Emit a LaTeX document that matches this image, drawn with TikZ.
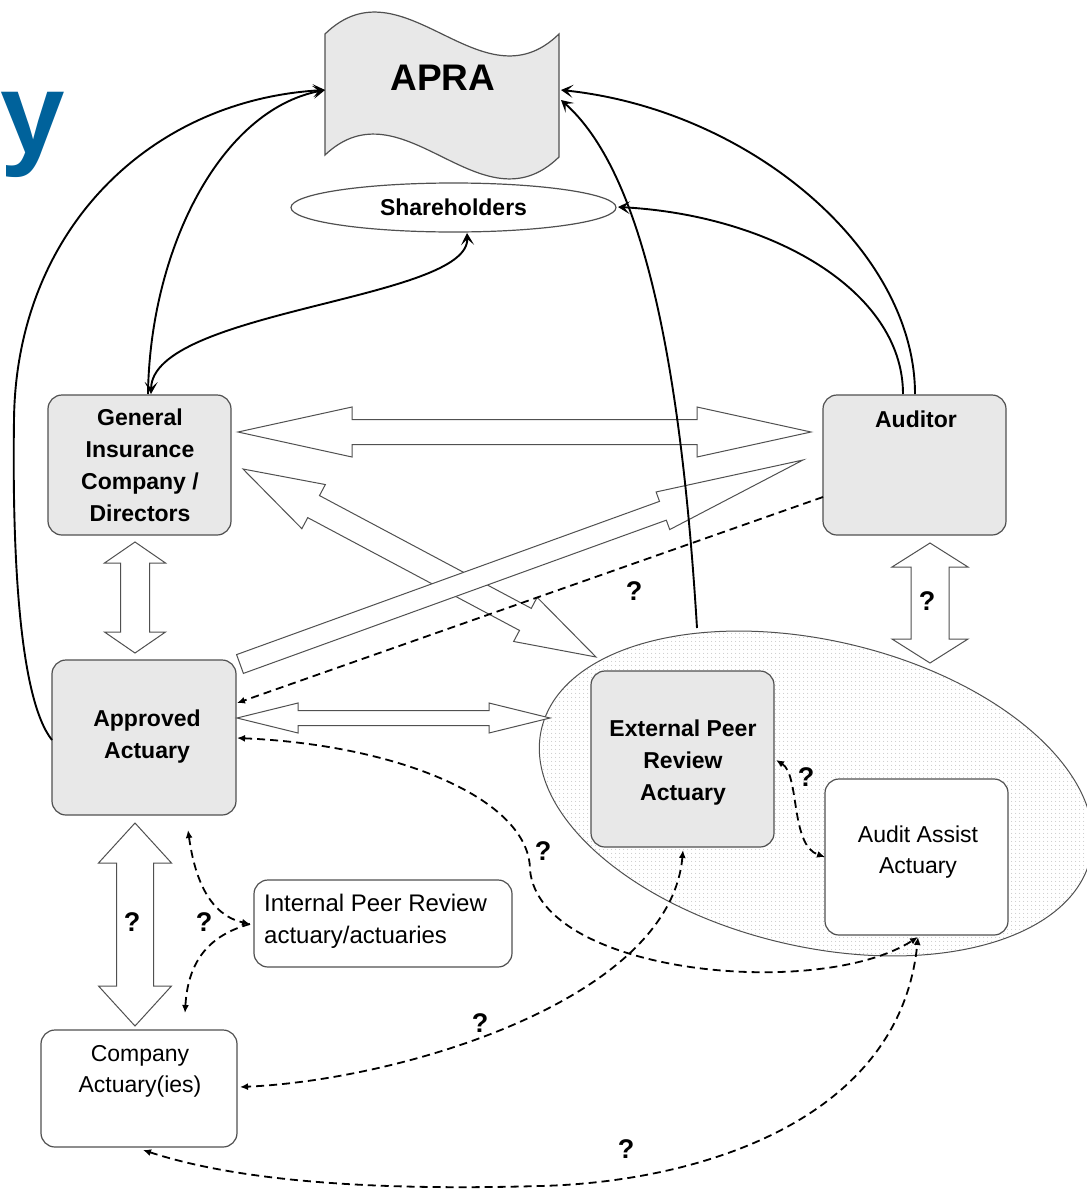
\documentclass[tikz,border=0pt]{standalone}
\usepackage{fontspec}
\setmainfont{Liberation Sans}
\usetikzlibrary{calc,arrows.meta,patterns.meta,shapes.geometric}

\definecolor{boxgray}{HTML}{E8E8E8}
\definecolor{edgegray}{HTML}{505050}
\definecolor{titleblue}{HTML}{00629B}

\tikzset{
  greybox/.style={draw=edgegray, line width=1.2pt, fill=boxgray, rounded corners=14pt, inner sep=0pt},
  whitebox/.style={draw=edgegray, line width=1.2pt, fill=white, rounded corners=14pt, inner sep=0pt},
  boldlbl/.style={font=\fontsize{23}{32}\selectfont\bfseries, align=center, inner sep=0pt},
  plainlbl/.style={font=\fontsize{23}{31}\selectfont, inner sep=0pt},
  qmark/.style={font=\fontsize{27}{27}\selectfont\bfseries, inner sep=0pt},
  blockarrow/.style={draw=edgegray, line width=1pt, fill=white, line join=miter},
  solidlink/.style={draw=black, line width=1.9pt, -{Stealth[length=12pt,width=13pt,inset=6pt]}},
  solidboth/.style={draw=black, line width=1.9pt, {Stealth[length=12pt,width=13pt,inset=6pt]}-{Stealth[length=12pt,width=13pt,inset=6pt]}},
  dashlink/.style={draw=black, line width=1.8pt, dash pattern=on 8pt off 5pt, -{Latex[length=8pt,width=7pt]}},
  dashboth/.style={draw=black, line width=1.8pt, dash pattern=on 8pt off 5pt, {Latex[length=8pt,width=7pt]}-{Latex[length=8pt,width=7pt]}}
}

% double block arrow: #1 A, #2 B, #3 shaft half width, #4 head half width, #5 head length
\newcommand\blockdbl[5]{%
  \path ($(#1)!#5!(#2)$) coordinate (hA) ($(#2)!#5!(#1)$) coordinate (hB);
  \filldraw[blockarrow]
   (#1) -- ($(hA)!#4!90:(#2)$) -- ($(hA)!#3!90:(#2)$)
   -- ($(hB)!#3!-90:(#1)$) -- ($(hB)!#4!-90:(#1)$)
   -- (#2) -- ($(hB)!#4!90:(#1)$) -- ($(hB)!#3!90:(#1)$)
   -- ($(hA)!#3!-90:(#2)$) -- ($(hA)!#4!-90:(#2)$) -- cycle;}
% single block arrow: flat end #1, tip #2
\newcommand\blocksgl[5]{%
  \path ($(#2)!#5!(#1)$) coordinate (hB);
  \filldraw[blockarrow]
   ($(#1)!#3!90:(#2)$) -- ($(hB)!#3!-90:(#1)$) -- ($(hB)!#4!-90:(#1)$)
   -- (#2) -- ($(hB)!#4!90:(#1)$) -- ($(hB)!#3!90:(#1)$)
   -- ($(#1)!#3!-90:(#2)$) -- cycle;}

\begin{document}
\begin{tikzpicture}[x=1pt,y=-1pt]
\useasboundingbox (0,0) rectangle (1087,1189);
\fill[white] (0,0) rectangle (1087,1189);

% partial title letter
\node[anchor=base west, inner sep=0pt, text=titleblue, font=\fontsize{116}{116}\selectfont\bfseries] (ttl) at (0.5,153) {y};

% APRA tape shape
\filldraw[draw=edgegray, line width=1.2pt, fill=boxgray]
  (325,34) .. controls (403,-42) and (481,110) .. (559,34)
  -- (559,157) .. controls (481,233) and (403,81) .. (325,155) -- cycle;
\node[font=\fontsize{37}{37}\selectfont\bfseries, inner sep=0pt] (apra) at (443,78) {APRA};

% Shareholders
\node[ellipse, draw=edgegray, line width=1.2pt, fill=white, minimum width=325pt, minimum height=49pt, inner sep=0pt,
      font=\fontsize{23}{23}\selectfont\bfseries] (sh) at (453.5,207.5) {Shareholders};

% external group ellipse
\node[ellipse, draw=edgegray, line width=1pt, fill=white, pattern={Dots[distance=4pt,radius=0.55pt]}, pattern color=black!32,
      minimum width=564pt, minimum height=306pt, inner sep=0pt, rotate=-13.3] (grp) at (816,793.5) {};

% boxes
\node[greybox, minimum width=183pt, minimum height=140pt] (gi) at (139.5,465) {};
\node[boldlbl] (gilbl) at (140,465) {General\\Insurance\\Company /\\Directors};
\node[greybox, minimum width=183pt, minimum height=140pt] (aud) at (914.5,465) {};
\node[boldlbl] (audlbl) at (916,419) {Auditor};
\node[greybox, minimum width=184pt, minimum height=155pt] (aa) at (144,737.5) {};
\node[boldlbl] (aalbl) at (147,737) {Approved\\Actuary};
\node[greybox, minimum width=183pt, minimum height=176pt] (ext) at (682.5,759) {};
\node[boldlbl] (extlbl) at (683,763) {External Peer\\Review\\Actuary};
\node[whitebox, minimum width=183pt, minimum height=156pt] (aaa) at (916.5,857) {};
\node[plainlbl, align=center] (aaalbl) at (918,852) {Audit Assist\\Actuary};
\node[whitebox, minimum width=258pt, minimum height=87pt] (ipr) at (383,923.5) {};
\node[plainlbl, align=left, anchor=west, font=\fontsize{24}{32}\selectfont] (iprlbl) at (264,921) {Internal Peer Review\\actuary/actuaries};
\node[whitebox, minimum width=196pt, minimum height=117pt] (ca) at (139,1088.5) {};
\node[plainlbl, align=center] (calbl) at (140,1071) {Company\\Actuary(ies)};

% block arrow end points
\coordinate (b1a) at (238,432);  \coordinate (b1b) at (811,432);
\coordinate (b2a) at (243,469);  \coordinate (b2b) at (596,657);
\coordinate (b3a) at (240,664);  \coordinate (b3b) at (803,460);
\coordinate (b4a) at (237,718);  \coordinate (b4b) at (550,718);
\coordinate (b5a) at (135,542);  \coordinate (b5b) at (135,653);
\coordinate (b6a) at (135,823);  \coordinate (b6b) at (135,1026);
\coordinate (b7a) at (930,543);  \coordinate (b7b) at (930,663);

\blockdbl{b1a}{b1b}{12.5pt}{25pt}{114pt}
\blockdbl{b2a}{b2b}{12.5pt}{25pt}{80pt}
\blocksgl{b3a}{b3b}{10pt}{20pt}{149pt}
\blockdbl{b4a}{b4b}{7.5pt}{15pt}{61pt}
\blockdbl{b5a}{b5b}{14.5pt}{30.5pt}{21pt}
\blockdbl{b6a}{b6b}{18.5pt}{36.5pt}{40pt}
\blockdbl{b7a}{b7b}{19pt}{38pt}{24pt}

% connector end points
\coordinate (apraL) at (325,90);
\coordinate (apraR) at (561,90);
\coordinate (apraR2) at (561,100);
\coordinate (shB) at (467,233);
\coordinate (shR) at (618,207);
\coordinate (aaL) at (52,740);
\coordinate (giT1) at (148,394);
\coordinate (giT2) at (151,394);
\coordinate (audT1) at (915,394);
\coordinate (audT2) at (903,394);
\coordinate (grpT) at (697,628);
\coordinate (audW) at (823,497);
\coordinate (aaE1) at (237,703);
\coordinate (aaE2) at (237,738);
\coordinate (aaaS) at (918,937);
\coordinate (extS) at (683,850);
\coordinate (caE) at (240,1087);
\coordinate (caS) at (143,1150);
\coordinate (extE) at (776,760);
\coordinate (aaaW) at (825,857);
\coordinate (aaS) at (188,830);
\coordinate (iprW) at (250,924);
\coordinate (caN) at (185,1013);

% solid connectors
\draw[solidlink] (aaL) .. controls (20,700) and (12,560) .. (14,420) .. controls (16,230) and (150,100) .. (apraL);
\draw[solidlink] (giT1) .. controls (150,250) and (220,110) .. (apraL);
\draw[solidboth] (giT2) .. controls (152,310) and (470,300) .. (shB);
\draw[solidlink] (audT1) .. controls (915,250) and (750,110) .. (apraR);
\draw[solidlink] (audT2) .. controls (903,290) and (770,215) .. (shR);
\draw[solidlink] (grpT) .. controls (680,350) and (640,170) .. (apraR2);

% dashed connectors
\draw[dashlink] (audW) -- (aaE1);
\draw[dashboth] (aaE2) .. controls (400,745) and (530,800) .. (530,870) .. controls (540,975) and (820,1000) .. (aaaS);
\draw[dashboth] (extS) .. controls (670,1000) and (400,1080) .. (caE);
\draw[dashboth] (caS) .. controls (250,1185) and (400,1190) .. (540,1186) .. controls (700,1182) and (900,1120) .. (aaaS);
\draw[dashboth] (extE) .. controls (800,775) and (790,845) .. (aaaW);
\draw[dashboth] (aaS) .. controls (195,880) and (210,915) .. (iprW);
\draw[dashlink] (iprW) .. controls (210,935) and (188,960) .. (caN);

% question marks
\node[qmark] (q1) at (132,922) {?};
\node[qmark] (q2) at (204,922) {?};
\node[qmark] (q3) at (634,591) {?};
\node[qmark] (q4) at (543,851) {?};
\node[qmark] (q5) at (480,1023) {?};
\node[qmark] (q6) at (626,1149) {?};
\node[qmark] (q7) at (806,777) {?};
\node[qmark] (q8) at (927,601) {?};
\end{tikzpicture}
\end{document}
